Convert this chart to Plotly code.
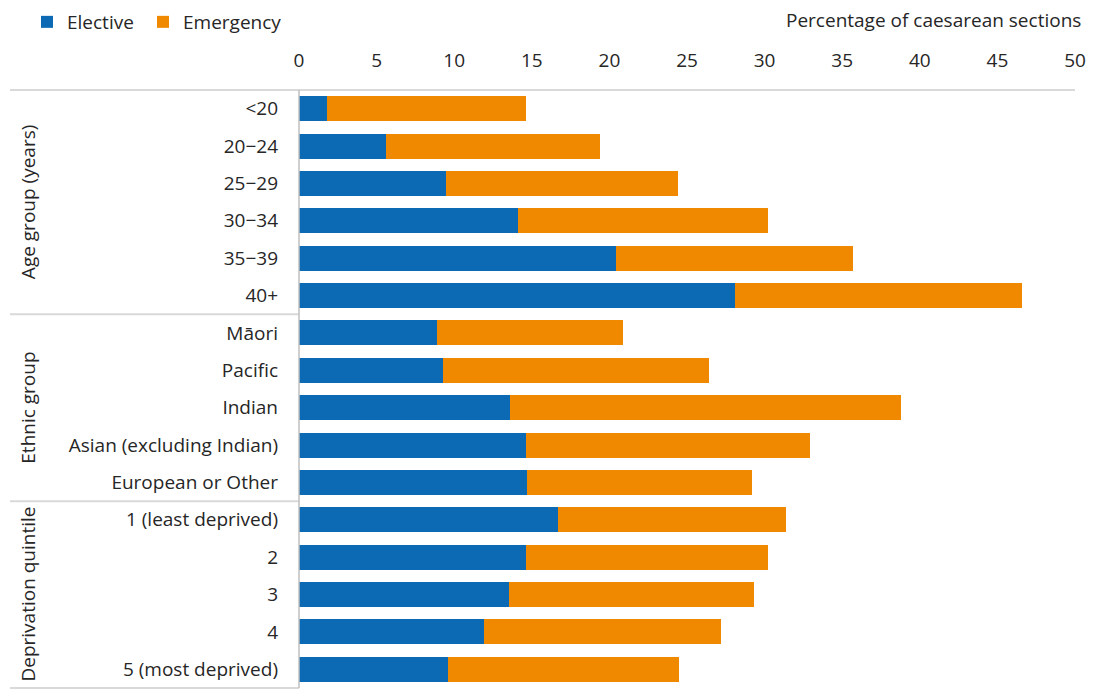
import plotly.graph_objects as go

categories = ["<20", "20\u221224", "25\u221229", "30\u221234", "35\u221239", "40+",
              "M\u0101ori", "Pacific", "Indian", "Asian (excluding Indian)", "European or Other",
              "1 (least deprived)", "2", "3", "4", "5 (most deprived)"]
elective = [1.8, 5.6, 9.5, 14.1, 20.4, 28.1,
            8.9, 9.3, 13.6, 14.6, 14.7,
            16.7, 14.6, 13.5, 11.9, 9.6]
total = [14.6, 19.4, 24.4, 30.2, 35.7, 46.6,
         20.9, 26.4, 38.8, 32.9, 29.2,
         31.4, 30.2, 29.3, 27.2, 24.5]
emergency = [round(t - e, 2) for t, e in zip(total, elective)]

groups = ["Age group (years)", "Ethnic group", "Deprivation quintile"]
group_centers = [2.5, 8, 13]
group_bounds = [5.5, 10.5, 15.5]
x_ticks = [0, 5, 10, 15, 20, 25, 30, 35, 40, 45, 50]

BLUE = "#0b6ab3"
ORANGE = "#f08800"
FONT = "Open Sans"
TXT = "#262626"
FS = 19

# page has an 8px body margin; work in figure coordinates (page - 8)
FW, FH = 1086, 691
L, R = 291, 1067
T, B = 81, 681
W = R - L
H = B - T

def px(xfig):
    return (xfig - L) / W

def py(yfig):
    return (B - yfig) / H

fig = go.Figure()
fig.add_trace(go.Bar(y=categories, x=elective, name="Elective", orientation="h",
                     marker=dict(color=BLUE, line=dict(width=0)), width=0.67,
                     legend="legend"))
fig.add_trace(go.Bar(y=categories, x=emergency, name="Emergency", orientation="h",
                     marker=dict(color=ORANGE, line=dict(width=0)), width=0.67,
                     legend="legend2"))

shapes = [dict(type="line", xref="paper", yref="y", x0=px(2), x1=1, y0=-0.5, y1=-0.5,
               line=dict(color="#d9d9d9", width=2))]
for b in group_bounds:
    shapes.append(dict(type="line", xref="paper", yref="y", x0=px(2), x1=0, y0=b, y1=b,
                       line=dict(color="#d9d9d9", width=2)))
shapes.append(dict(type="line", xref="paper", yref="y", x0=0, x1=0, y0=-0.5, y1=15.5,
                   line=dict(color="#bfbfbf", width=1.5)))

annotations = []
for g, c in zip(groups, group_centers):
    annotations.append(dict(text=g, xref="paper", yref="y", x=px(20), y=c, textangle=-90,
                            showarrow=False, font=dict(family=FONT, size=FS, color=TXT),
                            xanchor="center", yanchor="middle"))
annotations.append(dict(text="Percentage of caesarean sections", xref="paper", yref="paper",
                        x=px(1075), y=py(12), xanchor="right", yanchor="middle",
                        showarrow=False, font=dict(family=FONT, size=FS, color=TXT)))

leg_common = dict(orientation="h", xref="paper", yref="paper",
                  y=py(14), xanchor="left", yanchor="middle",
                  font=dict(family=FONT, size=FS, color=TXT),
                  bgcolor="rgba(0,0,0,0)")

fig.update_layout(
    width=FW, height=FH,
    margin=dict(l=L, r=FW - R, t=T, b=FH - B, autoexpand=False),
    barmode="stack",
    plot_bgcolor="white", paper_bgcolor="white",
    font=dict(family=FONT, size=FS, color=TXT),
    showlegend=True,
    legend=dict(x=px(19), **leg_common),
    legend2=dict(x=px(135), **leg_common),
    xaxis=dict(side="top", range=[0, 50], tickvals=x_ticks, showgrid=False, zeroline=False,
               showline=False, ticks="", ticklabelstandoff=17,
               tickfont=dict(family=FONT, size=FS, color=TXT)),
    yaxis=dict(type="category", categoryorder="array", categoryarray=categories,
               autorange="reversed", showgrid=False, zeroline=False, showline=False,
               ticks="", ticklabelstandoff=20,
               tickfont=dict(family=FONT, size=FS, color=TXT)),
    shapes=shapes, annotations=annotations,
)

fig.write_html("out.html")
